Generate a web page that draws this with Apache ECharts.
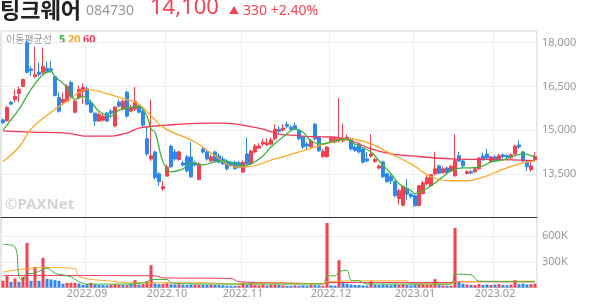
<!DOCTYPE html>
<html><head><meta charset="utf-8">
<script src="https://cdn.jsdelivr.net/npm/echarts@6/dist/echarts.min.js"></script>
<style>html,body{margin:0;padding:0;background:#fff;}#c{width:594px;height:304px;}</style>
</head><body><div id="c"></div>
<script>
// trading days per month
const tradingDays = [
  ['2022.08', [2,3,4,5,8,9,10,11,12,16,17,18,19,22,23,24,25,26,29,30,31]],
  ['2022.09', [1,2,5,6,7,8,13,14,15,16,19,20,21,22,23,26,27,28,29,30]],
  ['2022.10', [4,5,6,7,11,12,13,14,17,18,19,20,21,24,25,26,27,28,31]],
  ['2022.11', [1,2,3,4,7,8,9,10,11,14,15,16,17,18,21,22,23,24,25,28,29,30]],
  ['2022.12', [1,2,5,6,7,8,9,12,13,14,15,16,19,20,21,22,23,26,27,28,29]],
  ['2023.01', [2,3,4,5,6,9,10,11,12,13,16,17,18,19,20,25,26,27,30,31]],
  ['2023.02', [1,2,3,6,7,8,9,10,13,14,15]]
];
const dates = [];
tradingDays.forEach(([m, ds]) => ds.forEach(d => dates.push(m + '.' + String(d).padStart(2, '0'))));

const opens = [
 15350,15320,15960,16050,16260,16500,18000,17100,16830,16990,16980,17120,17100,16840,16120,15950,15990,16630,15610,16110,16330,
 16420,15950,15580,15310,15340,15580,15650,15140,15960,15720,16300,15650,15720,15820,15650,14700,14010,14250,13500,12990,
 13420,14450,14250,13990,13870,14080,14080,13880,13300,14350,14250,13940,14250,14110,14010,13940,13900,13900,13880,
 13560,14180,13840,14250,14380,14520,14500,14520,14700,15030,15000,15200,15100,15150,14970,14760,14520,14420,15200,14760,14090,14090,
 14630,14590,14630,14630,14700,14690,14420,14520,14350,14010,14110,13920,13700,13910,13500,13400,13230,12650,12420,13000,12800,
 12750,12410,12820,13160,13090,13500,13770,13540,13700,13600,13430,14120,13940,13510,13570,13570,13670,14110,14180,13910,
 14080,13980,14150,14120,14050,14180,14490,14250,13910,13650,13980
];
const closes = [
 15260,15770,15890,16160,16400,16740,16980,17040,16900,16910,17180,17020,17050,16190,15650,16050,16500,16160,15990,16400,16460,
 15890,15610,15310,15540,15470,15310,15580,15790,15820,15990,15480,15770,15990,15610,15170,14180,14120,13370,13230,13060,
 13730,13740,14010,14250,13800,13600,13400,13800,13840,14250,14010,14080,13940,13900,13840,13670,13800,13670,13720,
 13900,13840,14280,14450,14450,14590,14560,14660,15030,14960,15070,15130,15030,15050,14700,14420,14450,14630,14700,14290,14270,14420,
 14720,14700,14690,14700,14760,14350,14300,14250,13900,13940,14180,13990,13770,13400,13230,13260,12750,12920,13060,12800,12720,
 12400,13090,13190,13360,13470,13670,13520,13670,13540,13760,13950,13940,13770,13570,13530,13670,14040,13980,14040,14080,
 13950,14120,14080,14080,14150,14450,14420,13940,13740,13770,14100
];
const lows = [
 15200,15300,15860,15950,15950,16480,16950,16850,16800,16830,16900,16980,16980,16150,15600,15850,15950,16100,15580,16050,15900,
 15850,15580,15140,15280,15300,15290,15420,15100,15770,15680,15420,15620,15650,15580,15100,14110,13940,13300,13090,12920,
 13410,13700,13950,13950,13750,13550,13350,13750,13280,14180,13950,13900,13900,13850,13800,13600,13750,13650,13680,
 13520,13800,13800,14200,14350,14450,14450,14480,14650,14870,14950,15060,14990,15000,14650,14350,14350,14400,14650,14250,14050,14050,
 14550,14550,14580,14580,14650,14300,14250,14200,13850,13900,14050,13880,13650,13350,13200,13150,12700,12440,12380,12600,12650,
 12380,12380,12780,13100,13050,13450,13480,13500,13500,13550,13400,13900,13700,13480,13480,13540,13650,13950,13990,13880,
 13900,13950,14030,14030,14000,14150,14350,13900,13600,13570,13950
];
const highs = [
 15400,15830,16000,16400,16500,16760,18100,17180,17870,17320,17830,17350,17380,16900,16300,16280,16580,16700,16050,16530,16600,
 16500,16050,15600,15600,15550,15620,15720,15820,16050,16040,16350,15870,16480,15900,15700,15100,16050,14300,13550,13260,
 13820,14500,14350,14300,13950,14150,14600,13950,13900,14420,14300,14150,14300,14200,14100,14000,13950,13950,13950,
 13950,14750,14320,14520,14550,14700,14720,14750,15200,15150,15200,15300,15150,15250,15030,14800,14600,14700,15250,14800,14350,14450,
 14800,14750,16100,15220,14850,14750,14500,14550,14400,14250,14860,14050,13820,13950,13550,13500,13270,12990,13100,13320,12850,
 12800,13120,13250,13450,13500,14260,13820,13750,13750,13800,14860,14250,14000,13620,13620,13720,14080,14220,14350,14120,
 14150,14180,14200,14170,14200,14500,14650,14280,13950,13900,14250
];
// volume in thousands, r = up, b = down
const volK = [
 78,133,67,106,67,125,522,78,242,78,347,101,94,86,78,43,55,55,55,47,31,
 39,55,35,30,28,25,30,38,32,30,28,45,86,35,40,74,261,47,40,42,
 50,38,35,38,32,30,34,35,33,30,28,35,30,28,25,22,20,20,22,
 55,30,40,28,25,35,25,30,35,30,25,20,20,25,22,25,22,30,28,25,20,755,
 25,22,320,67,45,35,30,30,25,22,74,30,28,35,30,25,35,30,38,30,25,
 32,40,35,28,30,98,30,25,22,20,697,74,45,35,30,28,40,30,35,30,
 35,40,30,28,35,86,40,45,35,40,45
];
const volDir = ('rrbrbrrbrbrbbbbbrrrbb' + 'brbbbbrrrbrbrbrrrbbr' + 'rbbrbbbrrbbrbbbbbbr' +
  'rbrrrrbrrbrbbrbbbrbbrr' + 'bbrbbbbbbbrbbbbbbrrbb' + 'brrrrrbrbrrbbrbrrbbr' + 'brbbrrbbbrr').split('');

// moving averages: [day index, value]
const ma5 = [[0,15000],[4,15716],[7,16398],[10,16909],[12,17011],[13,16841],[16,16466],[18,16057],[20,16160],[22,15955],[24,15648],[27,15477],[29,15682],[32,15784],[34,15818],[36,15477],[37,15034],[38,14932],[40,13909],[42,13568],[45,13670],[47,13875],[50,13807],[53,13909],[55,13943],[58,13841],[60,13773],[62,13841],[65,14113],[67,14420],[70,14762],[73,15034],[75,14932],[77,14625],[80,14523],[82,14591],[86,14693],[88,14523],[92,14250],[94,13943],[97,13500],[99,13159],[102,12920],[103,12818],[105,12920],[107,13091],[110,13398],[112,13602],[115,13705],[117,13705],[120,13773],[122,13909],[125,13977],[127,14080],[130,14182],[133,14080]];
const ma20 = [[0,13909],[4,14420],[7,15034],[12,15614],[16,15989],[21,16398],[24,16330],[29,16125],[34,15886],[40,15102],[48,14591],[53,14114],[58,13739],[61,13739],[68,14011],[75,14284],[82,14591],[87,14693],[92,14523],[97,14182],[102,13841],[107,13398],[112,13261],[116,13261],[121,13432],[124,13602],[129,13841],[133,13943]];
const ma60 = [[0,14976],[7,14932],[16,14898],[21,14795],[27,14795],[31,14898],[34,15068],[41,15171],[50,15239],[55,15239],[61,15147],[65,15034],[69,14864],[72,14830],[77,14772],[82,14762],[87,14635],[92,14352],[97,14182],[102,14114],[112,14011],[124,13988],[133,13954]];
const vma5 = [[0,505],[3,475],[4,125],[5,86],[6,156],[8,168],[10,215],[11,226],[13,168],[17,125],[19,67],[21,40],[32,40],[35,55],[36,67],[37,94],[41,94],[42,55],[45,45],[55,40],[66,40],[80,40],[81,136],[83,136],[84,183],[86,203],[87,86],[89,78],[91,40],[112,40],[113,156],[117,148],[119,74],[133,67]];
const vma20 = [[0,183],[10,234],[18,222],[19,125],[27,74],[32,55],[52,55],[57,40],[66,51],[80,45],[81,67],[91,78],[101,78],[102,40],[112,40],[113,67],[133,74]];
const vma60 = [[0,141],[38,137],[40,113],[57,106],[59,67],[69,55],[80,45],[81,58],[112,58],[113,67],[133,67]];

const C_UP = '#f2414f', C_DN = '#2f88e8';
const C5 = '#3cb43c', C20 = '#ffa726', C60 = '#f2385a';
const monthStart = dates.map((d, i) => i > 0 && d.slice(0, 7) !== dates[i - 1].slice(0, 7));
const FONT = '"Noto Sans", "Noto Sans CJK KR", sans-serif';

const chart = echarts.init(document.getElementById('c'), null, {renderer: 'canvas'});
const lineS = (name, data, color, xi, w) => ({
  name, type: 'line', data, xAxisIndex: xi, yAxisIndex: xi, showSymbol: false, symbol: 'none',
  smooth: 0.35, connectNulls: true, lineStyle: {color, width: w}, z: 5, silent: true
});
chart.setOption({
  animation: false,
  textStyle: {fontFamily: FONT},
  grid: [
    {left: 1, width: 536, top: 31, height: 186.5, show: true, borderColor: '#ccc', borderWidth: 1},
    {left: 1, width: 536, top: 217.5, height: 70, show: true, borderColor: '#ccc', borderWidth: 1}
  ],
  xAxis: [
    {type: 'category', gridIndex: 0, data: dates, boundaryGap: true,
     axisLine: {show: true, lineStyle: {color: '#333', width: 1}}, axisTick: {show: false}, axisLabel: {show: false},
     splitLine: {show: true, interval: (i) => monthStart[i], lineStyle: {color: '#eee'}}},
    {type: 'category', gridIndex: 1, data: dates, boundaryGap: true,
     axisLine: {show: true, lineStyle: {color: '#ccc'}}, axisTick: {show: false},
     axisLabel: {interval: (i) => monthStart[i], formatter: (v) => v.slice(0, 7), color: '#999', fontSize: 11, margin: 1, fontFamily: FONT},
     splitLine: {show: true, interval: (i) => monthStart[i], lineStyle: {color: '#eee'}}}
  ],
  yAxis: [
    {type: 'value', gridIndex: 0, position: 'right', min: 12000, max: 18400, interval: 1500, scale: true,
     axisLine: {show: false}, axisTick: {show: false},
     axisLabel: {color: '#999', fontSize: 11, margin: 5, showMinLabel: false, showMaxLabel: false, fontFamily: FONT,
       formatter: (v) => v.toLocaleString('en-US')},
     splitLine: {lineStyle: {color: '#eee'}}},
    {type: 'value', gridIndex: 1, position: 'right', min: 0, max: 820, interval: 300,
     axisLine: {show: false}, axisTick: {show: false},
     axisLabel: {color: '#999', fontSize: 11, margin: 5, showMinLabel: false, showMaxLabel: false, fontFamily: FONT,
       formatter: (v) => v + 'K'},
     splitLine: {lineStyle: {color: '#eee'}}}
  ],
  series: [
    {type: 'candlestick', xAxisIndex: 0, yAxisIndex: 0, barWidth: 3,
     data: opens.map((o, i) => [o, closes[i], lows[i], highs[i]]),
     itemStyle: {color: C_UP, color0: C_DN, borderColor: C_UP, borderColor0: C_DN, borderWidth: 1}, z: 3},
    lineS('MA60', ma60, C60, 0, 1.3),
    lineS('MA20', ma20, C20, 0, 1.3),
    lineS('MA5', ma5, C5, 0, 1.3),
    {type: 'bar', xAxisIndex: 1, yAxisIndex: 1, barWidth: 3,
     data: volK.map((v, i) => ({value: v, itemStyle: {color: volDir[i] === 'r' ? C_UP : C_DN}})), z: 3},
    lineS('V60', vma60, C60, 1, 1),
    lineS('V20', vma20, C20, 1, 1),
    lineS('V5', vma5, C5, 1, 1)
  ],
  graphic: [
    {type: 'text', left: 0, top: -1, style: {text: '팅크웨어', font: 'bold 22px "Noto Sans CJK KR", sans-serif', fill: '#222'}},
    {type: 'text', left: 86, top: 4, style: {text: '084730', font: '14px ' + FONT, fill: '#999'}},
    {type: 'text', left: 150, top: -3, style: {text: '14,100', font: '22px ' + FONT, fill: '#f2414f'}},
    {type: 'text', left: 229, top: 6, style: {text: '▲', font: '10px ' + FONT, fill: '#f2414f'}},
    {type: 'text', left: 243, top: 4, style: {text: '330 +2.40%', font: '14px ' + FONT, fill: '#f2414f'}},
    {type: 'text', left: 6, top: 34, style: {text: '이동평균선', font: '10px "Noto Sans CJK KR", sans-serif', fill: '#999'}},
    {type: 'text', left: 59, top: 34, style: {text: '5', font: 'bold 11px ' + FONT, fill: C5}},
    {type: 'text', left: 68, top: 34, style: {text: '20', font: 'bold 11px ' + FONT, fill: C20}},
    {type: 'text', left: 83, top: 34, style: {text: '60', font: 'bold 11px ' + FONT, fill: C60}},
    {type: 'text', left: 5, top: 197, style: {text: '©PAXNet', font: 'bold 15px ' + FONT, fill: '#d4d4d4'}, z: 1}
  ]
});
</script></body></html>
